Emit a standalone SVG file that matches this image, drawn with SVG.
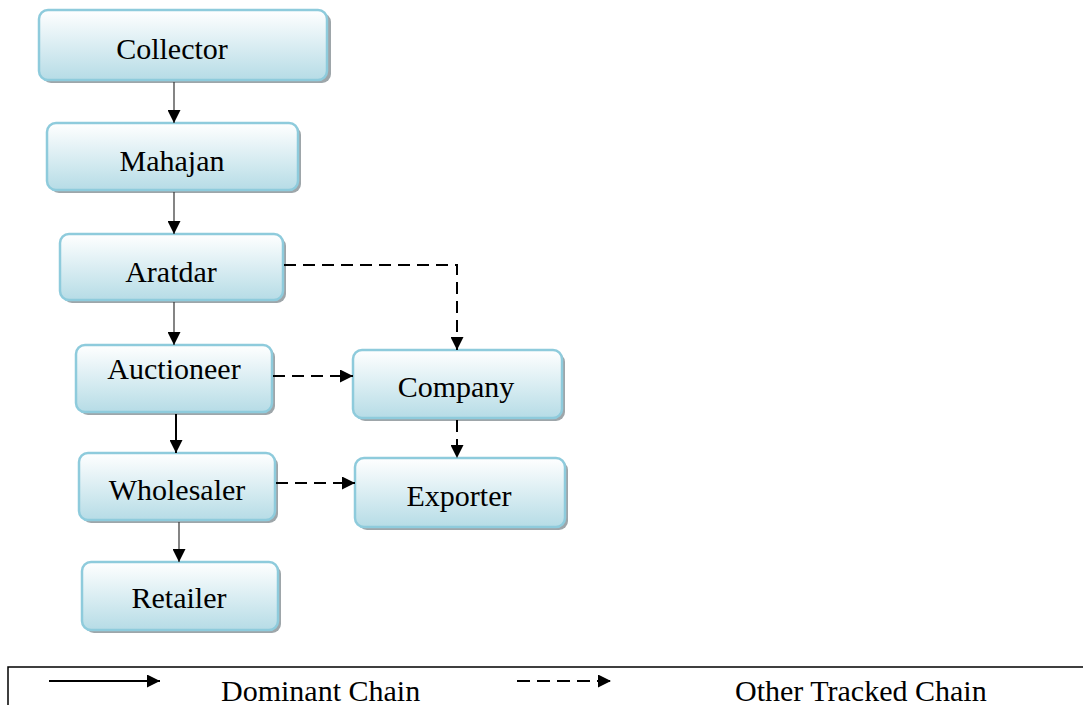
<svg xmlns="http://www.w3.org/2000/svg" width="1083" height="705" viewBox="0 0 1083 705">
<style>
.box{fill:url(#g);stroke:#8ecbdc;stroke-width:2.5}
.sh{fill:#9ea6aa}
.lbl{font-family:"Liberation Serif","Times New Roman",serif;font-size:30px;fill:#000;text-anchor:middle}
.solid{fill:none;stroke:#333;stroke-width:1.2}
.dash{fill:none;stroke:#000;stroke-width:2;stroke-dasharray:12,7}
.leg{font-family:"Liberation Serif","Times New Roman",serif;font-size:30px;fill:#000}
</style>
<defs>
<linearGradient id="g" x1="0" y1="0" x2="0" y2="1">
<stop offset="0" stop-color="#ffffff"/>
<stop offset="1" stop-color="#b6dce6"/>
</linearGradient>
<marker id="ah" viewBox="0 0 13 13" refX="13" refY="6.5" markerWidth="13" markerHeight="13" orient="auto" markerUnits="userSpaceOnUse">
<path d="M0,0 L13,6.5 L0,13 z" fill="#000"/>
</marker>
</defs>
<rect width="1083" height="705" fill="#fff"/>
<g id="collector">
<rect class="sh" x="42" y="13" width="289" height="70" rx="9"/>
<rect class="box" x="39" y="10" width="288" height="70" rx="9"/>
<text class="lbl" x="172" y="59">Collector</text>
</g>
<g id="mahajan">
<rect class="sh" x="50" y="126" width="251" height="67" rx="9"/>
<rect class="box" x="47" y="123" width="251" height="67" rx="9"/>
<text class="lbl" x="172" y="171">Mahajan</text>
</g>
<g id="aratdar">
<rect class="sh" x="63" y="237" width="223" height="66" rx="9"/>
<rect class="box" x="60" y="234" width="223" height="66" rx="9"/>
<text class="lbl" x="171" y="282">Aratdar</text>
</g>
<g id="auctioneer">
<rect class="sh" x="79" y="348" width="196" height="67" rx="9"/>
<rect class="box" x="76" y="345" width="196" height="67" rx="9"/>
<text class="lbl" x="174" y="379">Auctioneer</text>
</g>
<g id="company">
<rect class="sh" x="356" y="353" width="209" height="68" rx="9"/>
<rect class="box" x="353" y="350" width="209" height="68" rx="9"/>
<text class="lbl" x="456" y="397">Company</text>
</g>
<g id="wholesaler">
<rect class="sh" x="82" y="456" width="196" height="67" rx="9"/>
<rect class="box" x="79" y="453" width="196" height="67" rx="9"/>
<text class="lbl" x="177" y="500">Wholesaler</text>
</g>
<g id="exporter">
<rect class="sh" x="358" y="461" width="210" height="69" rx="9"/>
<rect class="box" x="355" y="458" width="210" height="69" rx="9"/>
<text class="lbl" x="459" y="506">Exporter</text>
</g>
<g id="retailer">
<rect class="sh" x="85" y="565" width="196" height="68" rx="9"/>
<rect class="box" x="82" y="562" width="196" height="68" rx="9"/>
<text class="lbl" x="179" y="608">Retailer</text>
</g>
<g id="connectors">
<path class="solid" d="M174,82 V123" marker-end="url(#ah)"/>
<path class="solid" d="M174,192 V234" marker-end="url(#ah)"/>
<path class="solid" d="M174,302 V345" marker-end="url(#ah)"/>
<path class="solid" style="stroke:#000;stroke-width:2" d="M176,414 V453" marker-end="url(#ah)"/>
<path class="solid" d="M179,522 V562" marker-end="url(#ah)"/>
<path class="dash" d="M284,265 H457 V350" marker-end="url(#ah)"/>
<path class="dash" d="M273,376 H353" marker-end="url(#ah)"/>
<path class="dash" d="M457,420 V458" marker-end="url(#ah)"/>
<path class="dash" d="M276,483 H355" marker-end="url(#ah)"/>
</g>
<g id="legend">
<path d="M8,705 V667 H1083" fill="none" stroke="#000" stroke-width="1.5"/>
<path d="M49,681 H160" fill="none" stroke="#000" stroke-width="2" marker-end="url(#ah)"/>
<text class="leg" x="221" y="701">Dominant Chain</text>
<path d="M517,681 H611" fill="none" stroke="#000" stroke-width="2" stroke-dasharray="13,7" marker-end="url(#ah)"/>
<text class="leg" x="735" y="701">Other Tracked Chain</text>
</g>
</svg>
